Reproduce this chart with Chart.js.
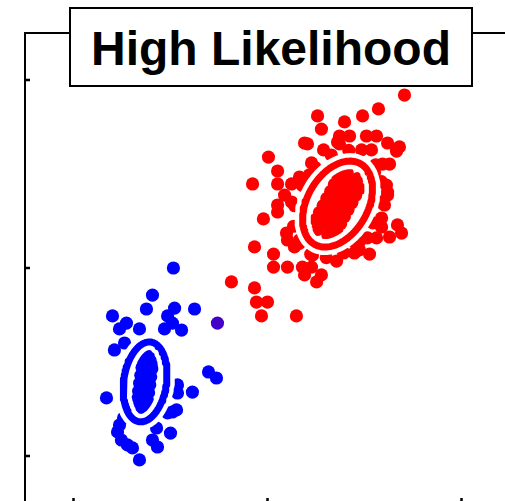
<!DOCTYPE html>
<html>
<head>
<meta charset="utf-8">
<script src="https://cdn.jsdelivr.net/npm/chart.js@4/dist/chart.umd.min.js"></script>
<style>
  html, body { margin: 0; padding: 0; background: #fff; overflow: hidden; width: 505px; height: 501px; }
  #wrap { position: absolute; left: 0; top: 0; width: 540px; height: 540px; }
  #title {
    position: absolute; left: 69px; top: 7px; width: 404px; height: 80px;
    box-sizing: border-box; border: 2px solid #000; background: #fff;
    font: bold 48px "Liberation Sans", Arial, sans-serif; line-height: 48px;
    text-align: center; padding-top: 16px; color: #000; white-space: nowrap;
  }
</style>
</head>
<body>
<div id="wrap"><canvas id="c" width="540" height="540"></canvas></div>
<div id="title">High Likelihood</div>
<script>
// Axis ticks (data units)
const xTicks = [0, 1, 2];
const yTicks = [0, 1, 2];

// Class 1 samples (red)
const redX = [1.706,1.572,1.490,1.258,1.397,1.278,1.371,1.423,1.510,1.562,1.206,1.371,1.289,1.485,1.536,1.619,1.665,1.005,1.052,1.227,
  1.593,1.629,0.923,1.052,1.124,1.165,1.613,1.619,1.088,0.979,1.052,0.933,1.031,1.031,1.103,1.180,1.227,1.191,1.278,1.253,
  0.814,0.933,0.943,1.000,0.969,1.149,1.103,1.139,1.356,1.448,1.526,1.459,1.515,1.562,1.670,1.691,1.588,1.588,1.603,1.619,
  1.124,1.052,1.191,1.361,1.680,1.423,1.474,1.629,1.098,1.165,1.232,1.216,1.552,
  1.587,1.543,1.392,1.223,1.135,1.179,1.329,1.558,1.582,1.477,1.303,1.164,1.140,1.245,1.419,
  1.256,1.311,1.248,1.285,1.321,1.357,1.268,1.304,1.340,1.377,1.287,1.323,1.359,1.396,1.306,1.343,1.379,1.415,
  1.326,1.362,1.398,1.435,1.345,1.381,1.418,1.454,1.364,1.401,1.437,1.474,1.411,1.465];
const redY = [1.920,1.846,1.809,1.809,1.777,1.739,1.702,1.702,1.702,1.702,1.660,1.660,1.628,1.628,1.628,1.665,1.622,1.590,1.516,1.559,
  1.553,1.553,1.447,1.447,1.447,1.484,1.441,1.404,1.388,1.261,1.298,1.112,1.074,1.005,1.005,1.005,1.005,0.963,0.963,0.926,
  0.926,0.894,0.819,0.819,0.745,0.745,1.149,1.112,1.037,1.080,1.074,1.122,1.160,1.160,1.229,1.186,1.266,1.218,1.335,1.388,
  1.351,1.335,1.665,1.670,1.644,1.149,1.096,1.165,1.186,1.149,1.069,1.495,1.511,
  1.459,1.240,1.080,1.073,1.222,1.440,1.601,1.549,1.350,1.146,1.055,1.131,1.331,1.535,1.626,
  1.205,1.175,1.257,1.238,1.218,1.198,1.295,1.276,1.255,1.236,1.332,1.313,1.293,1.273,1.370,1.351,1.330,1.311,
  1.408,1.388,1.368,1.348,1.445,1.426,1.405,1.386,1.483,1.463,1.443,1.423,1.506,1.476];

// Class 2 samples (blue)
const blueX = [0.515,0.407,0.376,0.521,0.624,0.201,0.485,0.273,0.237,0.340,0.469,0.557,0.510,0.263,0.211,0.170,0.613,0.536,0.536,0.510,
  0.531,0.485,0.500,0.428,0.237,0.227,0.247,0.278,0.304,0.407,0.433,0.340,0.696,0.737,0.258,
  0.324,0.376,0.330,0.381,0.336,0.387,0.341,0.393,0.347,0.398,0.353,0.404,0.359,0.410,0.389,0.347];
const blueY = [1.000,0.856,0.782,0.787,0.782,0.745,0.745,0.707,0.676,0.676,0.676,0.670,0.707,0.601,0.564,0.309,0.340,0.378,0.335,0.234,
  0.245,0.229,0.122,0.149,0.165,0.128,0.085,0.059,0.043,0.085,0.048,-0.021,0.447,0.415,0.202,
  0.261,0.253,0.303,0.295,0.345,0.337,0.387,0.379,0.429,0.421,0.471,0.464,0.513,0.506,0.541,0.236];

// Ambiguous sample between the classes
const midX = [0.742];
const midY = [0.707];

// Covariance ellipses: centre x, centre y, semi-major, semi-minor, angle (deg)
const redEllipse  = [1.361, 1.340, 0.245, 0.157, 62];
const blueEllipse = [0.369, 0.394, 0.214, 0.110, 82];

const toPoints = (xs, ys) => xs.map((x, i) => ({ x, y: ys[i] }));

function ellipseOutline(e) {
  const [cx, cy, a, b, deg] = e;
  const t = deg * Math.PI / 180;
  const pts = [];
  for (let i = 0; i <= 120; i++) {
    const s = (i / 120) * 2 * Math.PI;
    const u = a * Math.cos(s), v = b * Math.sin(s);
    pts.push({ x: cx + u * Math.cos(t) - v * Math.sin(t), y: cy + u * Math.sin(t) + v * Math.cos(t) });
  }
  return pts;
}

const ring = (e, color, width, order) => ({
  data: ellipseOutline(e), showLine: true, borderColor: color, borderWidth: width,
  pointRadius: 0, pointHoverRadius: 0, fill: false, tension: 0,
  borderJoinStyle: 'round', borderCapStyle: 'round', order
});

const dots = (data, color) => ({
  data, backgroundColor: color, borderWidth: 0, pointRadius: 6.6, pointHoverRadius: 6.6, order: 3
});

// Box frame with inward tick marks on every side
const framePlugin = {
  id: 'frame',
  afterDraw(chart) {
    const { ctx, chartArea: a, scales: { x, y } } = chart;
    ctx.save();
    ctx.strokeStyle = '#000';
    ctx.lineWidth = 2;
    ctx.strokeRect(a.left, a.top, a.right - a.left, a.bottom - a.top);
    ctx.lineWidth = 2.5;
    const len = 5;
    ctx.beginPath();
    xTicks.forEach(v => {
      const px = x.getPixelForValue(v);
      ctx.moveTo(px, a.bottom); ctx.lineTo(px, a.bottom - len);
      ctx.moveTo(px, a.top); ctx.lineTo(px, a.top + len);
    });
    yTicks.forEach(v => {
      const py = y.getPixelForValue(v);
      ctx.moveTo(a.left, py); ctx.lineTo(a.left + len, py);
      ctx.moveTo(a.right, py); ctx.lineTo(a.right - len, py);
    });
    ctx.stroke();
    ctx.restore();
  }
};

new Chart(document.getElementById('c'), {
  type: 'scatter',
  data: {
    datasets: [
      ring(redEllipse, '#ff0000', 7, 1),
      ring(blueEllipse, '#0000ff', 7, 1),
      ring(redEllipse, '#ffffff', 16, 2),
      ring(blueEllipse, '#ffffff', 16, 2),
      dots(toPoints(redX, redY), '#ff0000'),
      dots(toPoints(blueX, blueY), '#0000ff'),
      dots(toPoints(midX, midY), '#4200c8')
    ]
  },
  options: {
    responsive: false,
    devicePixelRatio: 1,
    animation: false,
    layout: { padding: { left: 25, top: 33, right: 30, bottom: 37 } },
    scales: {
      x: { type: 'linear', min: -0.25, max: 2.25, display: false },
      y: { type: 'linear', min: -0.25, max: 2.25, display: false }
    },
    plugins: { legend: { display: false }, tooltip: { enabled: false }, title: { display: false } }
  },
  plugins: [framePlugin]
});
</script>
</body>
</html>
